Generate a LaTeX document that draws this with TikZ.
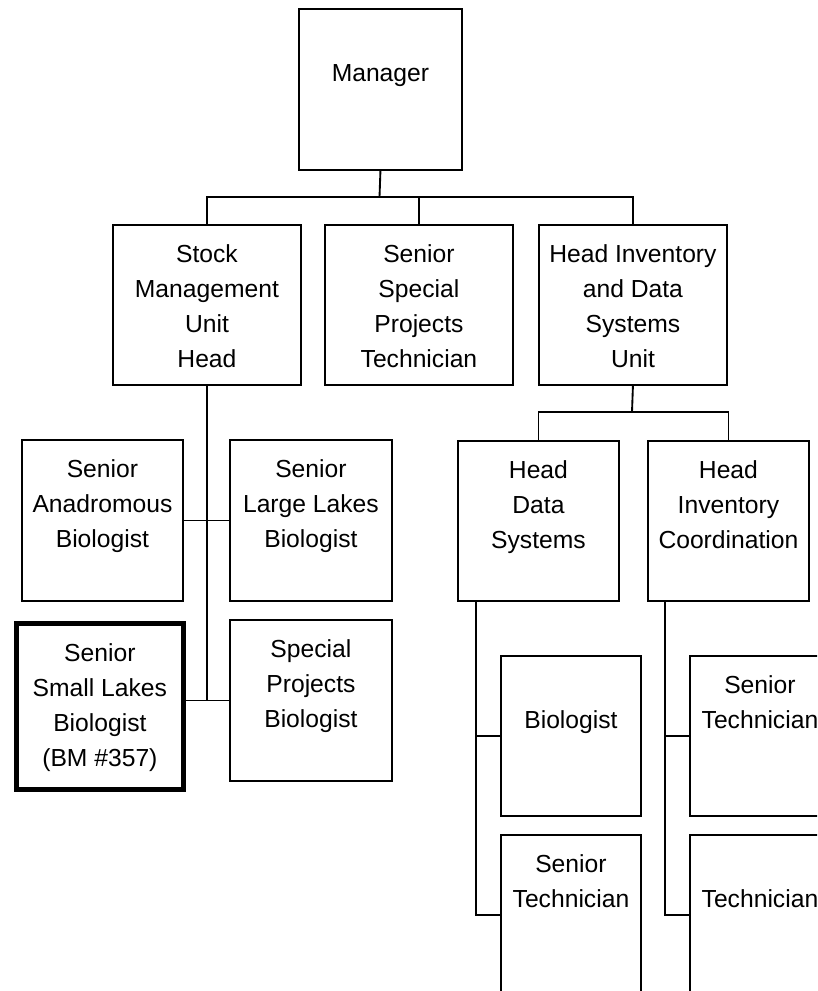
\documentclass[tikz,border=0pt]{standalone}
\usepackage{fontspec}
\setmainfont{Liberation Sans}

\newcommand{\postfont}{\fontsize{18.5pt}{26.25pt}\selectfont}
\newcommand{\posttext}[3]{\parbox[c][#2][t]{#1}{\centering\vspace*{10pt}\strut#3}}

\tikzset{
    post/.style={draw, line width=1.4pt, inner sep=0pt, anchor=north west, font=\postfont},
    mypost/.style={post, line width=3.6pt}
}

\begin{document}
\begin{tikzpicture}[x=0.75pt, y=-0.75pt, line width=1.4pt]
    \clip (0,0) rectangle (817,991);

    \node[post] (manager) at (298,8) {\posttext{122.25pt}{120.75pt}{\mbox{}\\Manager}};

    \node[post] (stock) at (112,224) {\posttext{141pt}{120pt}{Stock\\Management\\Unit\\Head}};
    \node[post] (special) at (324,224) {\posttext{141pt}{120pt}{Senior\\Special\\Projects\\Technician}};
    \node[post] (invent) at (538,224) {\posttext{141pt}{120pt}{Head Inventory\\and Data\\Systems\\Unit}};

    \node[post] (anadrom) at (21,439) {\posttext{120.75pt}{120.75pt}{Senior\\Anadromous\\Biologist}};
    \node[post] (large) at (229,439) {\posttext{121.5pt}{120.75pt}{Senior\\Large Lakes\\Biologist}};
    \node[mypost] (small) at (14,621) {\posttext{125.25pt}{124.5pt}{Senior\\Small Lakes\\Biologist\\(BM \#357)}};
    \node[post] (projbio) at (229,619) {\posttext{121.5pt}{120.75pt}{Special\\Projects\\Biologist}};

    \node[post] (datasys) at (457,440) {\posttext{120.75pt}{120pt}{Head\\Data\\Systems}};
    \node[post] (invcoord) at (647,440) {\posttext{120.75pt}{120pt}{Head\\Inventory\\Coordination}};

    \node[post] (biologist) at (500,655) {\posttext{105pt}{120pt}{\mbox{}\\Biologist}};
    \node[post] (sentech1) at (500,834) {\posttext{105pt}{120pt}{Senior\\Technician}};
    \node[post] (sentech2) at (689,655) {\posttext{105pt}{120pt}{Senior\\Technician}};
    \node[post] (tech) at (689,834) {\posttext{105pt}{120pt}{\mbox{}\\Technician}};

    \coordinate (topbus) at (379.5,197);
    \draw (manager.south) -- (topbus);
    \draw (stock.north) |- (invent.north |- topbus) -- (invent.north);
    \draw (special.north) -- (special.north |- topbus);

    \draw (stock.south) -- (stock.south |- projbio.west);
    \draw (anadrom.east) -- (large.west);
    \draw (small.east |- projbio.west) -- (projbio.west);

    \coordinate (invbus) at (632,412);
    \draw (invent.south) -- (invbus);
    \draw (datasys.north) |- (invcoord.north |- invbus) -- (invcoord.north);

    \coordinate (dsline) at ([xshift=14.25pt]datasys.south west);
    \draw (dsline) |- (sentech1.west);
    \draw (dsline |- biologist.west) -- (biologist.west);

    \coordinate (icline) at ([xshift=13.5pt]invcoord.south west);
    \draw (icline) |- (tech.west);
    \draw (icline |- sentech2.west) -- (sentech2.west);
\end{tikzpicture}
\end{document}
